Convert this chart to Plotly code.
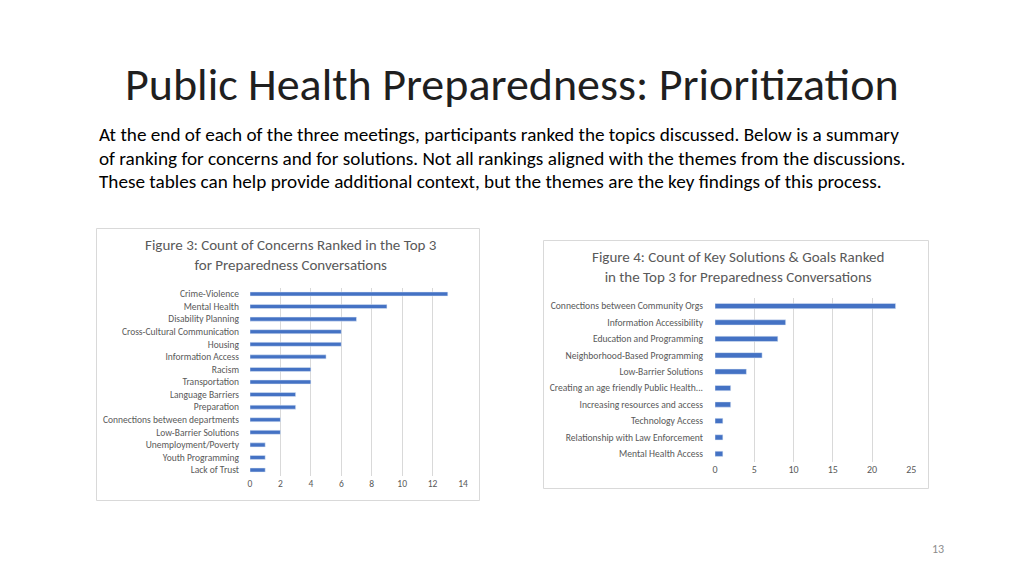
import plotly.graph_objects as go

# the page body adds an 8px margin, so the figure is drawn 8px in from the top-left
OFF = 8
W, H = 1024 - OFF, 576 - OFF

concern_labels = ["Crime-Violence", "Mental Health", "Disability Planning", "Cross-Cultural Communication",
                  "Housing", "Information Access", "Racism", "Transportation", "Language Barriers",
                  "Preparation", "Connections between departments", "Low-Barrier Solutions",
                  "Unemployment/Poverty", "Youth Programming", "Lack of Trust"]
concern_values = [13, 9, 7, 6, 6, 5, 4, 4, 3, 3, 2, 2, 1, 1, 1]

solution_labels = ["Connections between Community Orgs", "Information Accessibility",
                   "Education and Programming", "Neighborhood-Based Programming",
                   "Low-Barrier Solutions", "Creating an age friendly Public Health...",
                   "Increasing resources and access", "Technology Access",
                   "Relationship with Law Enforcement", "Mental Health Access"]
solution_values = [23, 9, 8, 6, 4, 2, 2, 1, 1, 1]

title_text = "Public Health Preparedness: Prioritization"
body_lines = [
    "At the end of each of the three meetings, participants ranked the topics discussed. Below is a summary",
    "of ranking for concerns and for solutions. Not all rankings aligned with the themes from the discussions.",
    "These tables can help provide additional context, but the themes are the key findings of this process.",
]
fig3_title = "Figure 3: Count of Concerns Ranked in the Top 3<br>for Preparedness Conversations"
fig4_title = "Figure 4: Count of Key Solutions &amp; Goals Ranked<br>in the Top 3 for Preparedness Conversations"
page_number = "13"

FONT = "Carlito, Calibri, Lato, sans-serif"
GREY = "#595959"
BAR = "#4472C4"

def px(x):
    return (x - OFF) / W

def py(y):
    return 1 - (y - OFF) / H

fig = go.Figure()
fig.add_trace(go.Bar(x=concern_values, y=concern_labels, orientation="h", marker_color=BAR,
                     xaxis="x", yaxis="y", showlegend=False, hoverinfo="x+y"))
fig.add_trace(go.Bar(x=solution_values, y=solution_labels, orientation="h", marker_color=BAR,
                     xaxis="x2", yaxis="y2", showlegend=False, hoverinfo="x+y"))

def xaxis_style(size):
    return dict(showgrid=True, gridcolor="#d9d9d9", gridwidth=1, zeroline=False, automargin=False,
                showline=False, ticks="", tickfont=dict(family=FONT, size=size, color=GREY))

fig.update_layout(
    width=W, height=H, margin=dict(l=0, r=0, t=0, b=0, autoexpand=False),
    paper_bgcolor="white", plot_bgcolor="white",
    bargap=0.68,
    xaxis=dict(domain=[px(250), px(463)], range=[0, 14], dtick=2, anchor="y", **xaxis_style(9.5)),
    yaxis=dict(domain=[py(476.3), py(287.7)], range=[14.5, -0.5], anchor="x", showgrid=False,
               zeroline=False, showline=False, ticks="", ticklabelstandoff=10, automargin=False,
               tickfont=dict(family=FONT, size=9.5, color=GREY)),
    xaxis2=dict(domain=[px(715), px(911.3)], range=[0, 25], dtick=5, anchor="y2", **xaxis_style(10)),
    yaxis2=dict(domain=[py(462), py(297.8)], range=[9.5, -0.5], anchor="x2", showgrid=False,
                zeroline=False, showline=False, ticks="", ticklabelstandoff=11, automargin=False,
                tickfont=dict(family=FONT, size=9.6, color=GREY)),
)

# chart boxes
fig.add_shape(type="rect", xref="paper", yref="paper", x0=px(96.5), x1=px(479.5), y0=py(500.5), y1=py(228.5),
              line=dict(color="#d9d9d9", width=1), layer="below")
fig.add_shape(type="rect", xref="paper", yref="paper", x0=px(543.5), x1=px(928.5), y0=py(488.5), y1=py(240.5),
              line=dict(color="#d9d9d9", width=1), layer="below")

annotations = [
    dict(text=title_text, x=px(512), y=py(84), xanchor="center", yanchor="middle",
         font=dict(family=FONT, size=46, color="#1f1f1f", weight=300)),
    dict(text=fig3_title, x=px(291), y=py(255.5), xanchor="center", yanchor="middle",
         font=dict(family=FONT, size=15, color=GREY)),
    dict(text=fig4_title, x=px(738), y=py(267.5), xanchor="center", yanchor="middle",
         font=dict(family=FONT, size=15, color=GREY)),
    dict(text=page_number, x=px(946), y=py(549), xanchor="right", yanchor="middle",
         font=dict(family=FONT, size=12, color="#8c8c8c")),
]
for i, line in enumerate(body_lines):
    annotations.append(dict(text=line, x=px(97), y=py(135 + 23 * i), xanchor="left", yanchor="middle",
                            font=dict(family=FONT, size=19.2, color="#000000")))
for a in annotations:
    a.update(xref="paper", yref="paper", showarrow=False)
fig.update_layout(annotations=annotations)

fig.write_html("out.html")
